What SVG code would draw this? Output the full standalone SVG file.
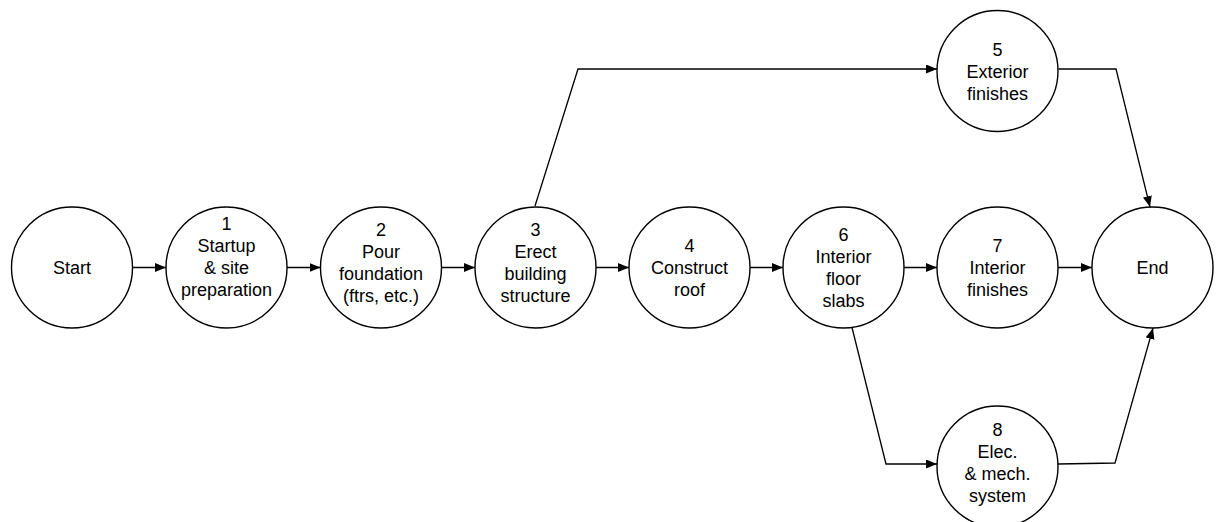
<svg xmlns="http://www.w3.org/2000/svg" width="1222" height="522" viewBox="0 0 1222 522">
<style>
.n{fill:#fff;stroke:#000;stroke-width:1.4}
.t{font-family:"Liberation Sans",Arial,sans-serif;font-size:18px;fill:#000;text-anchor:middle}
.e{fill:none;stroke:#000;stroke-width:1.3}
</style>
<defs>
<marker id="a" markerUnits="userSpaceOnUse" markerWidth="12" markerHeight="10" refX="11" refY="4.5" orient="auto">
<path d="M0,0 L11,4.5 L0,9 Z" fill="#000"/>
</marker>
</defs>
<rect width="1222" height="522" fill="#fff"/>
<g id="connectors">
<path class="e" d="M132.5,267.5 H166" marker-end="url(#a)"/>
<path class="e" d="M287,267.5 H320.5" marker-end="url(#a)"/>
<path class="e" d="M441.5,267.5 H475" marker-end="url(#a)"/>
<path class="e" d="M596,267.5 H629" marker-end="url(#a)"/>
<path class="e" d="M750,267.5 H783" marker-end="url(#a)"/>
<path class="e" d="M904,267.5 H937" marker-end="url(#a)"/>
<path class="e" d="M1058,267.5 H1092" marker-end="url(#a)"/>
<path class="e" d="M535,206 L578,69 H937" marker-end="url(#a)"/>
<path class="e" d="M1058.5,69 H1116 L1150,207" marker-end="url(#a)"/>
<path class="e" d="M852,327.5 L886,464 H937" marker-end="url(#a)"/>
<path class="e" d="M1058,464 L1115,463 L1153,328" marker-end="url(#a)"/>
</g>
<g id="start"><circle class="n" cx="72" cy="267.5" r="60.5"/><text class="t" x="72" y="273.5">Start</text></g>
<g id="n1"><circle class="n" cx="226.5" cy="267.5" r="60.5"/><text class="t" x="226.5" y="230">1</text><text class="t" x="226.5" y="252">Startup</text><text class="t" x="226.5" y="274">&amp; site</text><text class="t" x="226.5" y="296">preparation</text></g>
<g id="n2"><circle class="n" cx="381" cy="267.5" r="60.5"/><text class="t" x="381" y="236">2</text><text class="t" x="381" y="258">Pour</text><text class="t" x="381" y="280">foundation</text><text class="t" x="381" y="302">(ftrs, etc.)</text></g>
<g id="n3"><circle class="n" cx="535.5" cy="267.5" r="60.5"/><text class="t" x="535.5" y="236">3</text><text class="t" x="535.5" y="258">Erect</text><text class="t" x="535.5" y="280">building</text><text class="t" x="535.5" y="302">structure</text></g>
<g id="n4"><circle class="n" cx="689.5" cy="267.5" r="60.5"/><text class="t" x="689.5" y="252">4</text><text class="t" x="689.5" y="274">Construct</text><text class="t" x="689.5" y="296">roof</text></g>
<g id="n6"><circle class="n" cx="843.5" cy="267.5" r="60.5"/><text class="t" x="843.5" y="241">6</text><text class="t" x="843.5" y="263">Interior</text><text class="t" x="843.5" y="285">floor</text><text class="t" x="843.5" y="307">slabs</text></g>
<g id="n7"><circle class="n" cx="997.5" cy="267.5" r="60.5"/><text class="t" x="997.5" y="252">7</text><text class="t" x="997.5" y="274">Interior</text><text class="t" x="997.5" y="296">finishes</text></g>
<g id="end"><circle class="n" cx="1152.5" cy="267.5" r="60.5"/><text class="t" x="1152.5" y="273.5">End</text></g>
<g id="n5"><circle class="n" cx="997.5" cy="71" r="60.5"/><text class="t" x="997.5" y="56">5</text><text class="t" x="997.5" y="78">Exterior</text><text class="t" x="997.5" y="100">finishes</text></g>
<g id="n8"><circle class="n" cx="997.5" cy="466.5" r="60.5"/><text class="t" x="997.5" y="436">8</text><text class="t" x="997.5" y="458">Elec.</text><text class="t" x="997.5" y="480">&amp; mech.</text><text class="t" x="997.5" y="502">system</text></g>
</svg>
